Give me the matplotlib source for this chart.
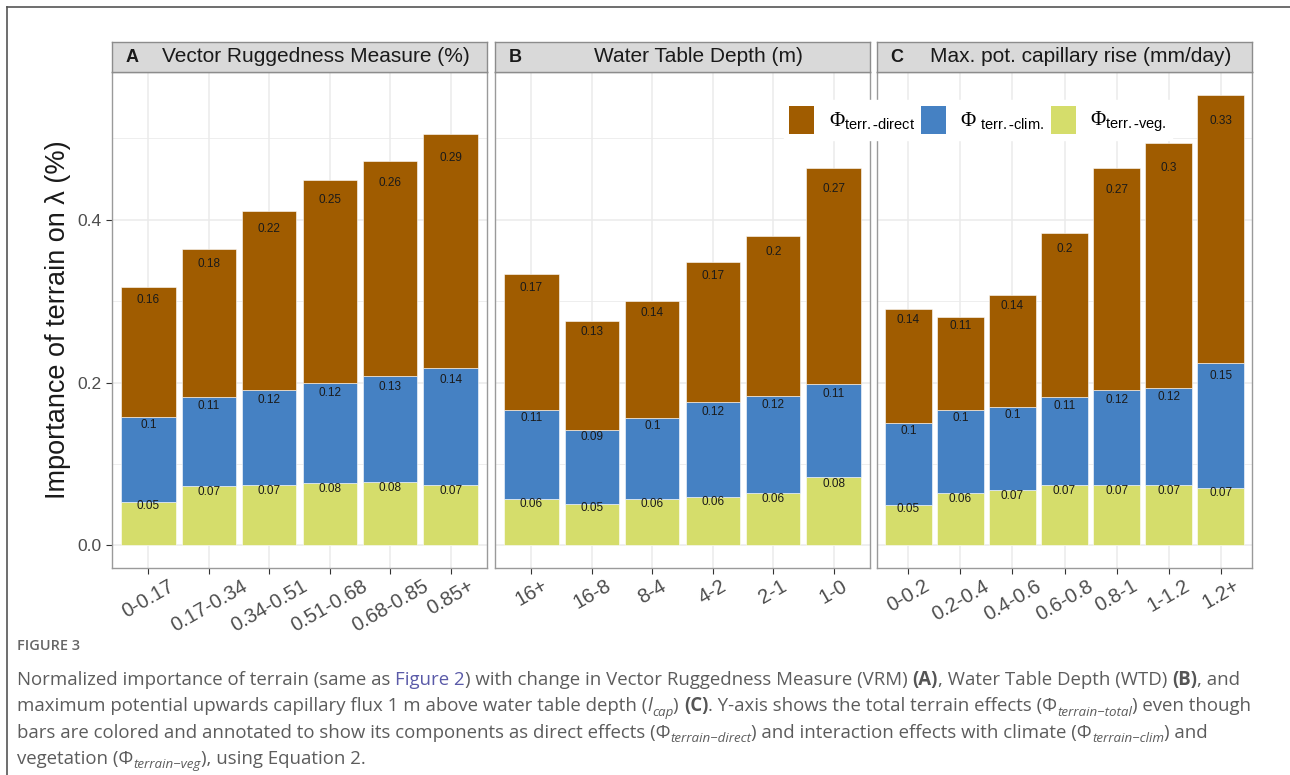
import matplotlib
matplotlib.use("Agg")
import matplotlib.pyplot as plt
from matplotlib.lines import Line2D
from matplotlib.patches import Patch

plt.rcParams['font.family'] = ['Liberation Sans', 'DejaVu Sans']
plt.rcParams['mathtext.fontset'] = 'custom'
plt.rcParams['mathtext.rm'] = 'Liberation Serif'
plt.rcParams['mathtext.sf'] = 'Liberation Sans'
plt.rcParams['mathtext.it'] = 'Liberation Serif:italic'

# data (stacked components of terrain importance)
vrm_bins = ["0-0.17", "0.17-0.34", "0.34-0.51", "0.51-0.68", "0.68-0.85", "0.85+"]
vrm_veg = [0.054, 0.073, 0.074, 0.077, 0.078, 0.074]
vrm_clim = [0.104, 0.109, 0.117, 0.123, 0.130, 0.144]
vrm_direct = [0.160, 0.182, 0.220, 0.249, 0.264, 0.287]

wtd_bins = ["16+", "16-8", "8-4", "4-2", "2-1", "1-0"]
wtd_veg = [0.057, 0.051, 0.057, 0.060, 0.064, 0.084]
wtd_clim = [0.110, 0.091, 0.100, 0.116, 0.120, 0.114]
wtd_direct = [0.166, 0.134, 0.143, 0.172, 0.196, 0.266]

cap_bins = ["0-0.2", "0.2-0.4", "0.4-0.6", "0.6-0.8", "0.8-1", "1-1.2", "1.2+"]
cap_veg = [0.050, 0.064, 0.068, 0.074, 0.074, 0.074, 0.071]
cap_clim = [0.101, 0.103, 0.102, 0.108, 0.117, 0.120, 0.153]
cap_direct = [0.140, 0.114, 0.138, 0.202, 0.273, 0.300, 0.330]

panels = [
    ("A", "Vector Ruggedness Measure (%)", vrm_bins, vrm_veg, vrm_clim, vrm_direct),
    ("B", "Water Table Depth (m)", wtd_bins, wtd_veg, wtd_clim, wtd_direct),
    ("C", "Max. pot. capillary rise (mm/day)", cap_bins, cap_veg, cap_clim, cap_direct),
]

col_direct = "#A05C00"
col_clim = "#4581C3"
col_veg = "#D5DD6B"

W, H = 1290, 775
fig = plt.figure(figsize=(W / 100, H / 100), dpi=100)

ymax = max(v + c + d for p in panels for v, c, d in zip(p[3], p[4], p[5]))
ylo, yhi = -0.05 * ymax, 1.05 * ymax

lefts = [112, 495, 877]
pw = 375
top_px, bot_px = 72, 568

for i, (tag, title, bins, veg, clim, direct) in enumerate(panels):
    ax = fig.add_axes([lefts[i] / W, 1 - bot_px / H, pw / W, (bot_px - top_px) / H])
    x = list(range(len(bins)))
    b1 = veg
    b2 = [a + b for a, b in zip(veg, clim)]
    for vals, bottom, col in [(veg, [0] * len(x), col_veg), (clim, b1, col_clim), (direct, b2, col_direct)]:
        ax.bar(x, vals, bottom=bottom, width=0.9, color=col, edgecolor="white", linewidth=0.4, zorder=2)
        for xi, v, bt in zip(x, vals, bottom):
            ax.text(xi, bt + 0.9 * v, f"{round(v, 2):g}", ha="center", va="center",
                    fontsize=8.5, color="#1a1a1a", zorder=3)
    ax.set_xlim(-0.6, len(bins) - 0.4)
    ax.set_ylim(ylo, yhi)
    ax.set_xticks(x)
    ax.set_xticklabels(bins, rotation=30, fontsize=14.5, color="#4D4D4D")
    ax.set_yticks([0, 0.2, 0.4])
    ax.set_yticks([0.1, 0.3, 0.5], minor=True)
    if i == 0:
        ax.set_yticklabels(["0.0", "0.2", "0.4"], fontsize=12.5, color="#4D4D4D")
        ax.tick_params(axis="y", which="major", length=4, color="#333333")
    else:
        ax.set_yticklabels([])
        ax.tick_params(axis="y", which="major", length=0)
    ax.tick_params(axis="x", length=4, color="#333333", pad=2)
    ax.tick_params(which="minor", length=0)
    ax.grid(which="major", color="#EBEBEB", linewidth=1.1, zorder=0)
    ax.grid(which="minor", axis="y", color="#EBEBEB", linewidth=0.6, zorder=0)
    ax.set_axisbelow(True)
    for s in ax.spines.values():
        s.set_color("#9a9a9a")
        s.set_linewidth(1.0)

    # facet strip
    sx = fig.add_axes([lefts[i] / W, 1 - top_px / H, pw / W, 30 / H])
    sx.set_facecolor("#D9D9D9")
    sx.set_xticks([])
    sx.set_yticks([])
    for s in sx.spines.values():
        s.set_color("#8c8c8c")
        s.set_linewidth(1.0)
    sx.text(20 / pw, 0.5, tag, transform=sx.transAxes, ha="center", va="center",
            fontsize=13, fontweight="bold", color="#1a1a1a")
    sx.text(0.5 + 16 / pw, 0.5, title, transform=sx.transAxes, ha="center", va="center",
            fontsize=15, color="#1a1a1a")

fig.text(58 / W, 1 - 320 / H, "Importance of terrain on λ (%)", rotation=90,
         ha="center", va="center", fontsize=19.5, color="#1a1a1a")

handles = [Patch(facecolor=col_direct), Patch(facecolor=col_clim), Patch(facecolor=col_veg)]
labels = [r"$\Phi_{\mathsf{terr.}\text{-}\mathsf{direct}}$",
          r"$\Phi\ _{\mathsf{terr.}\text{-}\mathsf{clim.}}$",
          r"$\Phi_{\mathsf{terr.}\text{-}\mathsf{veg.}}$"]
leg = fig.legend(handles, labels, loc="center", bbox_to_anchor=(978 / W, 1 - 120 / H), ncol=3,
                 fontsize=15, frameon=True, fancybox=False, framealpha=1,
                 handlelength=1.2, handleheight=1.7, handletextpad=0.7, columnspacing=0.3,
                 borderpad=0.25)
leg.get_frame().set_edgecolor("white")

# frame of the figure panel (top and left edges)
fig.add_artist(Line2D([7 / W, 1], [1 - 7 / H, 1 - 7 / H], color="#555555", lw=1.2))
fig.add_artist(Line2D([7 / W, 7 / W], [0, 1 - 7 / H], color="#555555", lw=1.2))

# caption
cap_font = ['Open Sans', 'DejaVu Sans']
txt_col = "#5c5c5c"
renderer = fig.canvas.get_renderer()


def text_width(s, **kw):
    t = fig.text(0, 0, "|" + s + "|", **kw)
    w1 = t.get_window_extent(renderer).width
    t.remove()
    t = fig.text(0, 0, "||", **kw)
    w2 = t.get_window_extent(renderer).width
    t.remove()
    return w1 - w2


def draw_line(pieces, x0, y, size):
    x = x0
    for s, kind in pieces:
        kw = dict(family=cap_font, color=txt_col, fontsize=size)
        dy = 0
        if kind == "b":
            kw["fontweight"] = "bold"
            kw["color"] = "#555555"
        elif kind == "link":
            kw["color"] = "#5a5aa8"
        elif kind == "it":
            kw["style"] = "italic"
        elif kind == "sub":
            kw["style"] = "italic"
            kw["fontsize"] = size * 0.72
            dy = -4.5
        fig.text(x / W, (y + dy) / H, s, va="baseline", ha="left", **kw)
        x += text_width(s, **kw)


lines = [
    [("Normalized importance of terrain (same as ", "n"), ("Figure 2", "link"),
     (") with change in Vector Ruggedness Measure (VRM) ", "n"), ("(A)", "b"),
     (", Water Table Depth (WTD) ", "n"), ("(B)", "b"), (", and", "n")],
    [("maximum potential upwards capillary flux 1 m above water table depth (", "n"), ("l", "it"),
     ("cap", "sub"), (") ", "n"), ("(C)", "b"),
     (". Y-axis shows the total terrain effects (Φ", "n"), ("terrain−total", "sub"), (") even though", "n")],
    [("bars are colored and annotated to show its components as direct effects (Φ", "n"),
     ("terrain−direct", "sub"), (") and interaction effects with climate (Φ", "n"),
     ("terrain−clim", "sub"), (") and", "n")],
    [("vegetation (Φ", "n"), ("terrain−veg", "sub"), ("), using Equation 2.", "n")],
]

# pick font size so the first caption line spans the same width as in the reference
base = 12.0
w_line1 = sum(text_width(s, family=cap_font, fontsize=base,
                         fontweight=("bold" if k == "b" else "normal")) for s, k in lines[0])
cap_size = base * (1233 - 17) / w_line1

fig.text(17 / W, 1 - 650 / H, "FIGURE 3", family=cap_font, fontsize=cap_size * 0.78,
         fontweight="semibold", color="#666666", va="baseline")
for j, ln in enumerate(lines):
    draw_line(ln, 17, H - (685 + 26.3 * j), cap_size)

fig.savefig("out.png", dpi=100)
